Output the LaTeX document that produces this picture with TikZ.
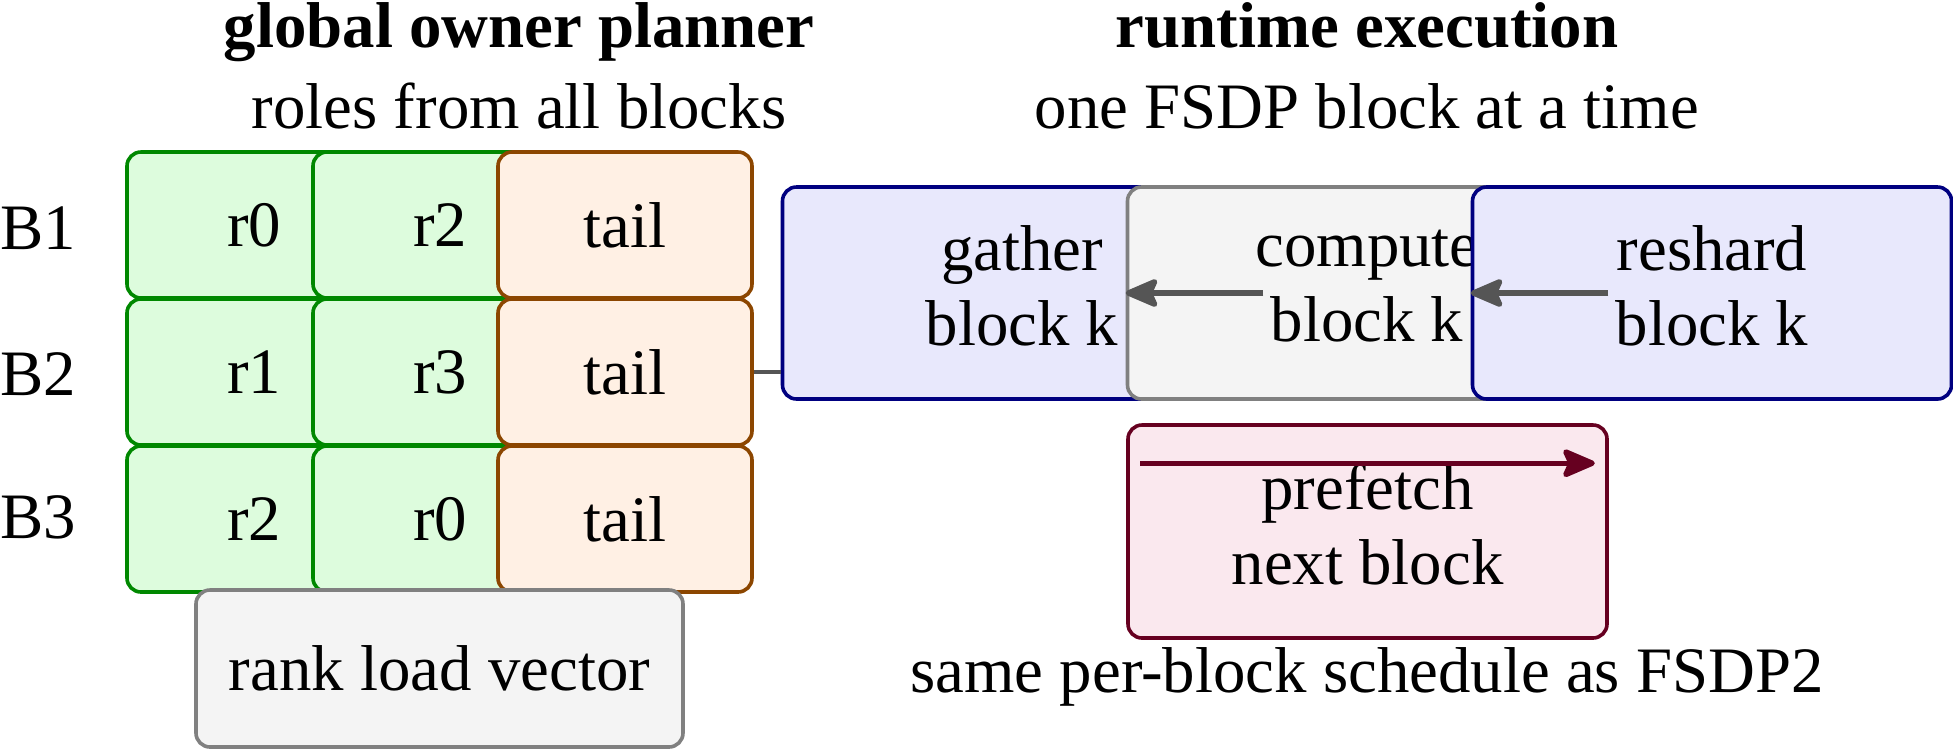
\documentclass[tikz,border=0pt]{standalone}
\usepackage{fontspec}
\setmainfont{Liberation Serif}
\usetikzlibrary{arrows.meta}
\definecolor{gfill}{RGB}{221,252,221}
\definecolor{gdraw}{RGB}{0,136,0}
\definecolor{tfill}{RGB}{255,240,228}
\definecolor{tdraw}{RGB}{140,70,0}
\definecolor{nfill}{RGB}{244,244,244}
\definecolor{ndraw}{RGB}{128,128,128}
\definecolor{bfill}{RGB}{232,232,252}
\definecolor{bdraw}{RGB}{0,0,128}
\definecolor{pfill}{RGB}{250,232,238}
\definecolor{pdraw}{RGB}{102,0,32}
\definecolor{adraw}{RGB}{85,85,85}
\newcommand\myfont{\fontsize{32.4pt}{37.5pt}\selectfont}
\begin{document}
\begin{tikzpicture}[x=0.5pt,y=-0.5pt,
  every node/.style={font=\myfont, inner sep=0pt},
  box/.style={draw, rounded corners=7pt, line width=1.8pt},
  cell/.style={box, fill=gfill, draw=gdraw, minimum width=127pt, minimum height=73pt},
  tailbox/.style={box, fill=tfill, draw=tdraw, minimum width=127pt, minimum height=73pt},
  graybox/.style={box, fill=nfill, draw=ndraw},
  bluebox/.style={box, fill=bfill, draw=bdraw},
  rtsize/.style={minimum width=239.5pt, minimum height=106pt, align=center},
  title/.style={anchor=base, font=\myfont\bfseries},
  sub/.style={anchor=base},
  conn/.style={draw=adraw, line width=2.1pt},
  arr/.style={draw=adraw, line width=2.7pt, -{Stealth[length=19pt,width=16pt,inset=3.5pt,round]}},
  parr/.style={draw=pdraw, line width=2.7pt, -{Stealth[length=19pt,width=16pt,inset=3.5pt,round]}}
]
\useasboundingbox (0,0) rectangle (1953,752);

% titles
\node[title] (tl) at (519,47) {global owner planner};
\node[sub] (sl) at (519,128) {roles from all blocks};
\node[title] (tr) at (1367,47) {runtime execution};
\node[sub] (sr) at (1367,128) {one FSDP block at a time};

% row labels
\node[anchor=base west] (b1) at (0,249) {B1};
\node[anchor=base west] (b2) at (0,395) {B2};
\node[anchor=base west] (b3) at (0,538) {B3};

% grid: column 1
\node[cell] (a1) at (254,225) {r0};
\node[cell] (a2) at (254,372) {r1};
\node[cell] (a3) at (254,519) {r2};
% column 2
\node[cell] (c1) at (440,225) {r2};
\node[cell] (c2) at (440,372) {r3};
\node[cell] (c3) at (440,519) {r0};
% tail column
\node[tailbox] (t1) at (625,225) {tail};
\node[tailbox] (t2) at (625,372) {tail};
\node[tailbox] (t3) at (625,519) {tail};

% rank load vector
\node[graybox, minimum width=243.5pt, minimum height=78.5pt] (rlv) at (439.5,668.5) {rank load vector};

% runtime
\node[bluebox, rtsize] (gather) at (1022,293) {gather\\block k\rule[-7pt]{0pt}{0pt}};
\node[graybox, rtsize] (compute) at (1367,293) {compute\\block k\rule[-7pt]{0pt}{0pt}};
\node[bluebox, rtsize] (reshard) at (1712,293) {reshard\\block k\rule[-7pt]{0pt}{0pt}};

\draw[conn] (t2.east) -- (t2.east -| gather.west);
\draw[arr] (gather) -- (compute);
\draw[arr] (compute) -- (reshard);

% prefetch
\node[box, fill=pfill, draw=pdraw, minimum width=239.5pt, minimum height=106.5pt, align=center] (pref) at (1367.5,531.5) {prefetch\\next block\rule[-7pt]{0pt}{0pt}};
\coordinate (pa) at ([xshift=7pt,yshift=-20pt]pref.north west);
\coordinate (pb) at ([xshift=-7pt,yshift=-20pt]pref.north east);
\draw[parr] (pa) -- (pb);

% caption
\node[sub] (cap) at (1367,692) {same per-block schedule as FSDP2};
\end{tikzpicture}
\end{document}
